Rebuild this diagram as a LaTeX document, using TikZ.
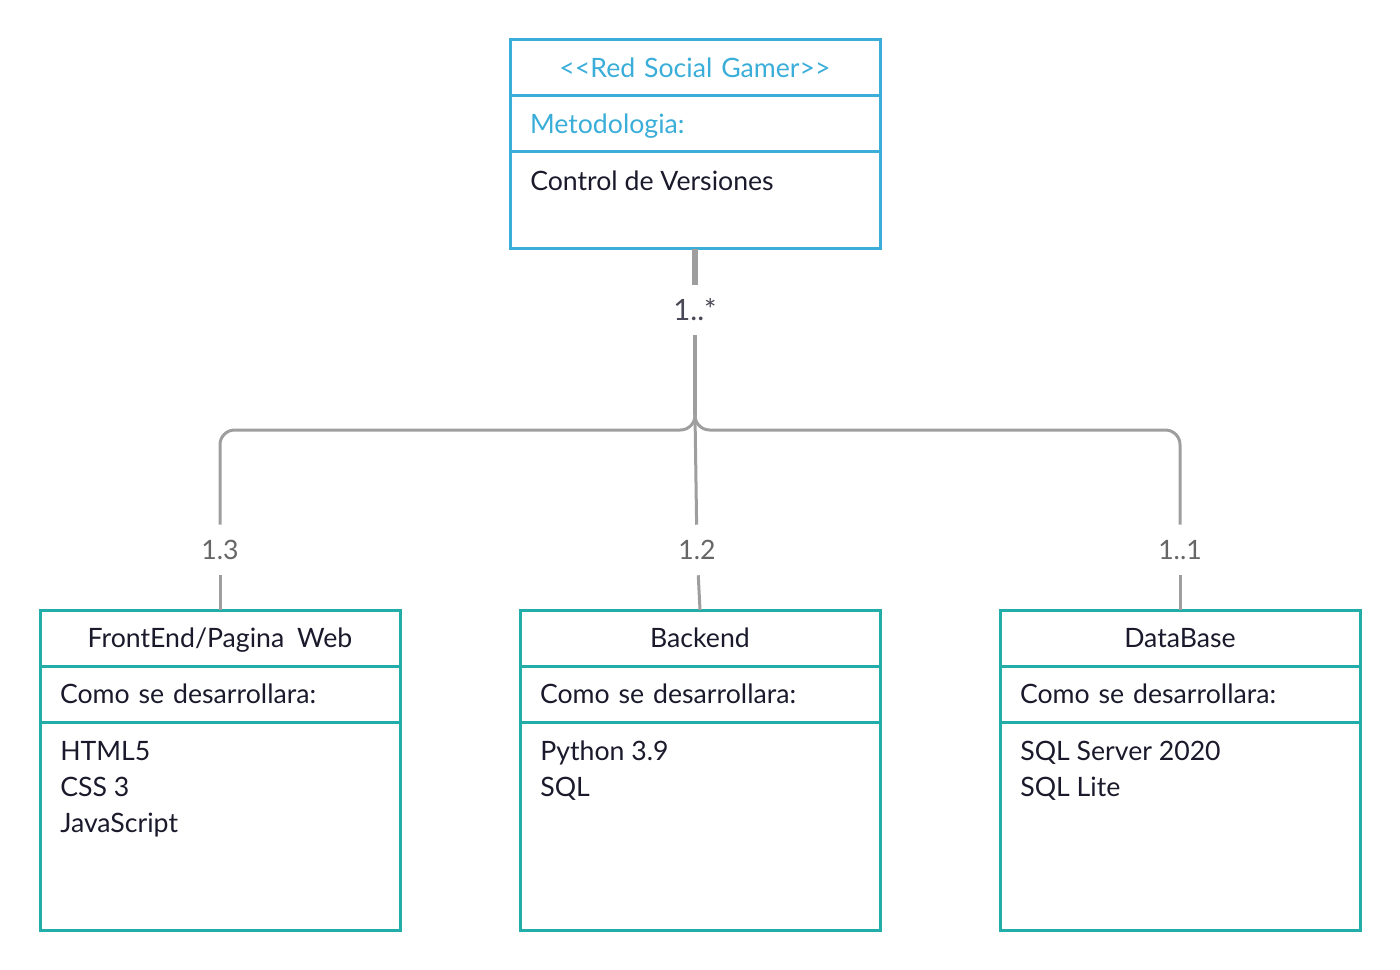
\documentclass[tikz,border=0pt]{standalone}
\usepackage{fontspec}
\setmainfont{Lato}
\usetikzlibrary{positioning}
\definecolor{umlblue}{HTML}{3AAED8}
\definecolor{umlteal}{HTML}{22ADA8}
\definecolor{ink}{HTML}{1A1A2C}
\definecolor{linkgray}{HTML}{9E9E9E}
\definecolor{labelgray}{HTML}{666666}

\begin{document}
\begin{tikzpicture}[x=0.75pt, y=-0.75pt,
    font=\fontsize{20}{27}\selectfont,
    cpart/.style={draw=#1, line width=2.25pt, outer sep=0pt, inner xsep=15pt, inner ysep=0pt, minimum height=42pt, text depth=0pt, text=ink},
    chead/.style={cpart=#1, align=center},
    cattr/.style={cpart=#1, align=left},
    clist/.style={anchor=north west, inner sep=0pt, align=left, text=ink},
    link/.style={draw=linkgray, line width=2.25pt},
    mult/.style={text=labelgray, minimum height=37.5pt, inner sep=0pt}
]
    \useasboundingbox (0,0) rectangle (1400,970);

    % main class
    \node[chead=umlblue, text width=247.5pt, text=umlblue] (red-head) at (695,68) {<\kern0pt<Red Social Gamer>\kern0pt>};
    \node[cattr=umlblue, text width=247.5pt, text=umlblue, below=0pt of red-head] (red-attr) {Metodologia:};
    \node[cpart=umlblue, text width=247.5pt, minimum height=72.75pt, below=0pt of red-attr] (red-body) {};
    \node[clist] (red-list) at ([shift={(20,19)}]red-body.north west) {Control de Versiones};

    % child classes
    \node[chead=umlteal, text width=240pt] (front-head) at (220,638) {FrontEnd/Pagina\ \kern0.15em Web};
    \node[cattr=umlteal, text width=240pt, below=0pt of front-head] (front-attr) {Como se desarrollara:};
    \node[cpart=umlteal, text width=240pt, minimum height=156pt, below=0pt of front-attr] (front-body) {};
    \node[clist] (front-list) at ([shift={(20,19)}]front-body.north west) {HTML5\\CSS 3\\JavaScript};

    \node[chead=umlteal, text width=240pt] (back-head) at (700,638) {Backend};
    \node[cattr=umlteal, text width=240pt, below=0pt of back-head] (back-attr) {Como se desarrollara:};
    \node[cpart=umlteal, text width=240pt, minimum height=156pt, below=0pt of back-attr] (back-body) {};
    \node[clist] (back-list) at ([shift={(20,19)}]back-body.north west) {Python 3.9\\SQL};

    \node[chead=umlteal, text width=240pt] (data-head) at (1180,638) {DataBase};
    \node[cattr=umlteal, text width=240pt, below=0pt of data-head] (data-attr) {Como se desarrollara:};
    \node[cpart=umlteal, text width=240pt, minimum height=156pt, below=0pt of data-attr] (data-body) {};
    \node[clist] (data-list) at ([shift={(20,19)}]data-body.north west) {SQL Server 2020\\SQL Lite};

    % multiplicities
    \node[mult, text=ink!80, font=\fontsize{22}{26}\selectfont] (star) at (695,310) {1..*};
    \node[mult] (m13) at (220,550) {1.3};
    \node[mult] (m12) at (697,550) {1.2};
    \node[mult] (m11) at (1180,550) {1..1};
    \coordinate (fork) at (695,415);
    \coordinate (hub) at (695,430);

    \draw[link, line width=4.5pt] (red-body.south) -- (star);
    \draw[link, line width=3pt] (star) -- (fork);
    \draw[link, rounded corners=11pt] (fork) -- (hub) -- (hub -| m13) -- (m13);
    \draw[link, rounded corners=11pt] (fork) -- (hub) -- (hub -| m11) -- (m11);
    \draw[link] (fork) -- (m12);
    \draw[link] (m13) -- (front-head.north);
    \draw[link] (m12) -- (back-head.north);
    \draw[link] (m11) -- (data-head.north);
\end{tikzpicture}
\end{document}
